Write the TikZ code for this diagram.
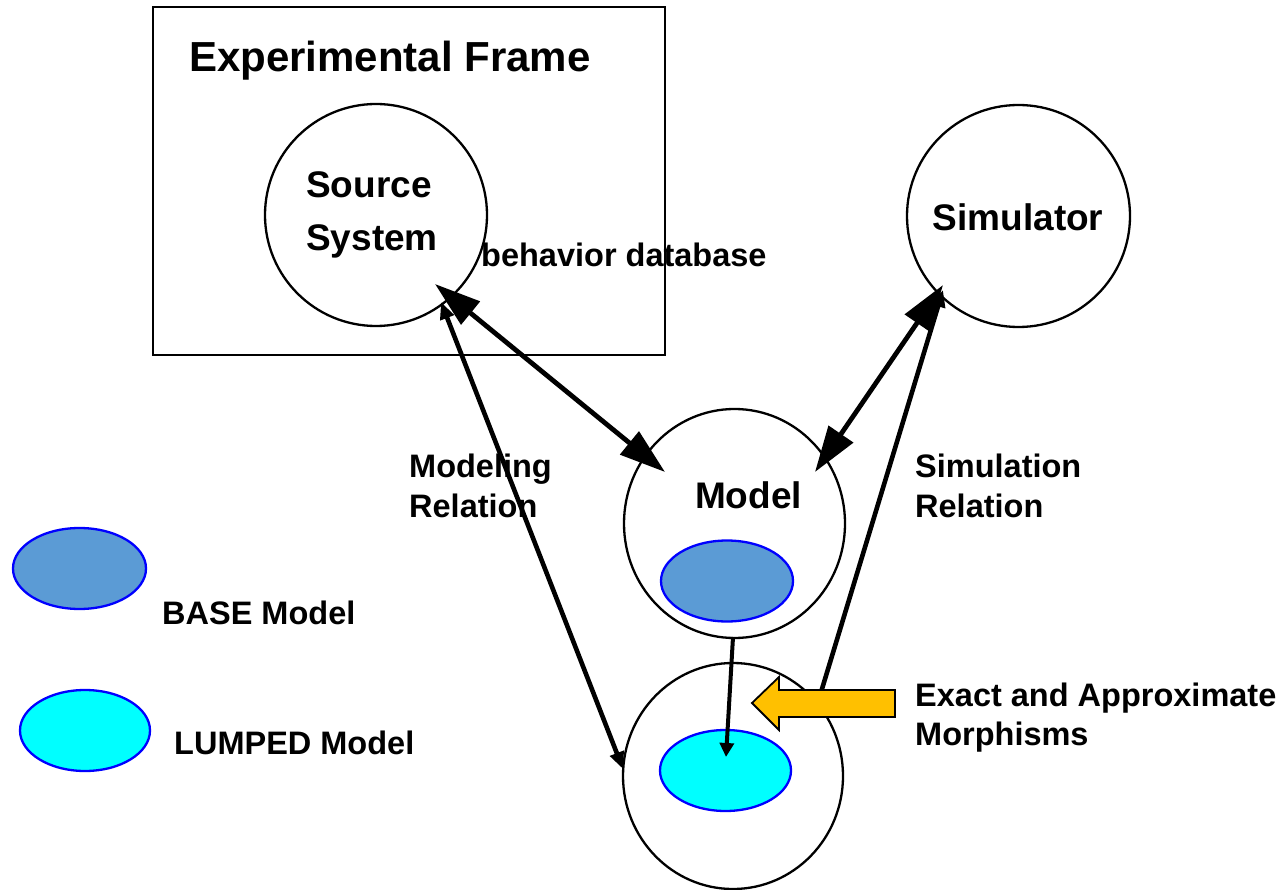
\documentclass[tikz,border=0pt]{standalone}
\usepackage{fontspec}
\setmainfont{Liberation Sans}
\usetikzlibrary{shapes.geometric,arrows.meta,calc}

\definecolor{basefill}{RGB}{91,155,213}
\definecolor{lumpfill}{RGB}{0,255,255}
\definecolor{morphfill}{RGB}{255,192,0}

\begin{document}
\begin{tikzpicture}[x=1pt,y=-1pt,
  ring/.style={draw,line width=2.3pt,ellipse,inner sep=0pt},
  blob/.style={draw=blue,line width=2.3pt,ellipse,minimum width=132pt,minimum height=81pt,inner sep=0pt},
  titlefont/.style={font=\bfseries\fontsize{42}{50}\selectfont,inner sep=0pt},
  big/.style={font=\bfseries\fontsize{37}{44}\selectfont,inner sep=0pt},
  small/.style={font=\bfseries\fontsize{32.5}{40}\selectfont,inner sep=0pt},
  bighead/.tip={Triangle[length=46pt,width=29pt]},
  smallhead/.tip={Triangle[length=17pt,width=14pt]},
  dbl/.style={line width=4.8pt,bighead-bighead},
  rel/.style={line width=4.6pt,-smallhead},
  morph/.style={line width=4pt,-{Triangle[length=14pt,width=14pt]}},
]
\useasboundingbox (0,0) rectangle (1282,890);

% experimental frame box
\node[draw,line width=2.3pt,minimum width=512pt,minimum height=348pt,inner sep=0pt] (frame) at (409,181) {};

% systems and models
\node[ring,minimum width=222pt,minimum height=222pt] (src) at (376,215) {};
\node[ring,minimum width=223pt,minimum height=222pt] (sim) at (1018.5,216) {};
\node[ring,minimum width=221pt,minimum height=229pt] (mdl) at (734.5,523.5) {};
\node[ring,minimum width=220pt,minimum height=226pt] (lmp) at (733,776) {};

\node[blob,fill=basefill] (base) at (727,581) {};
\node[blob,fill=lumpfill,minimum width=131pt] (lump) at (725.5,770.5) {};

% legend
\node[blob,fill=basefill,minimum width=133pt] (legbase) at (79.5,568.5) {};
\node[blob,fill=lumpfill,minimum width=130pt] (leglump) at (85,730.5) {};

% texts
\node[titlefont,anchor=base west] (title) at (189,72) {Experimental Frame};
\node[big,anchor=base] (srcA) at (369,198) {Source};
\node[big,anchor=base] (srcB) at (372,251) {System};
\node[big,anchor=base] (simT) at (1018,231) {Simulator};
\node[big,anchor=base] (mdlT) at (748.5,508) {Model};
\node[small,anchor=base west] (beh) at (481,267) {behavior database};
\node[small,anchor=base west] (modA) at (409,477) {Modeling};
\node[small,anchor=base west] (modB) at (409,517) {Relation};
\node[small,anchor=base west] (simA) at (915,477) {Simulation};
\node[small,anchor=base west] (simB) at (915,517) {Relation};
\node[small,anchor=base west] (morA) at (915,706) {Exact and Approximate};
\node[small,anchor=base west] (morB) at (915,745) {Morphisms};
\node[small,anchor=base west] (legA) at (162,624) {BASE Model};
\node[small,anchor=base west] (legB) at (174,754) {LUMPED Model};

% connector end points
\coordinate (srcM) at ($(src.center)+(59,69)$);
\coordinate (srcR) at ($(src.center)+(65,87)$);
\coordinate (mdlS) at ($(mdl.center)+(-69.5,-51.5)$);
\coordinate (mdlT2) at ($(mdl.center)+(80.5,-51.5)$);
\coordinate (mdlB) at ($(mdl.center)+(-1.5,113.5)$);
\coordinate (simM) at ($(sim.center)+(-75.5,69)$);
\coordinate (simR) at ($(sim.center)+(-75.5,74)$);
\coordinate (lmpL) at ($(lmp.center)+(-110,-7)$);
\coordinate (lmpR) at ($(lmp.center)+(82,-64)$);
\coordinate (lumpT) at ($(lump.center)+(0.5,-13.5)$);

% relations
\draw[dbl] (srcM) -- (mdlS);
\draw[dbl] (simM) -- (mdlT2);
\draw[rel,smallhead-smallhead] (lmpL) -- (srcR);
\draw[rel] (lmpR) -- (simR);
\draw[morph] (mdlB) -- (lumpT);

% morphism block arrow
\draw[line width=1.8pt,fill=morphfill,line join=miter]
  (752,703) -- (779,677) -- (779,690) -- (895,690) -- (895,717) -- (779,717) -- (779,730) -- cycle;
\end{tikzpicture}
\end{document}
